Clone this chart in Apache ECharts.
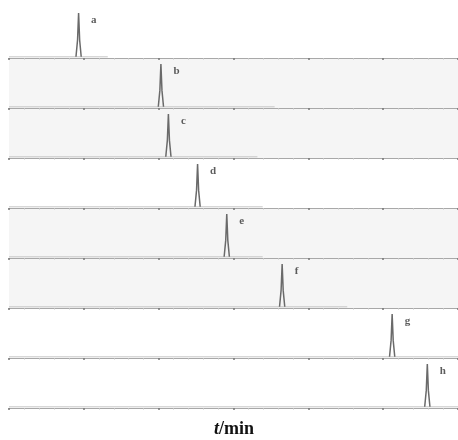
<!DOCTYPE html>
<html>
<head>
<meta charset="utf-8">
<script src="https://cdn.jsdelivr.net/npm/echarts@6/dist/echarts.min.js"></script>
<style>
  html, body { margin: 0; padding: 0; background: #fff; }
  #chart { width: 458px; height: 440px; }
</style>
</head>
<body>
<div id="chart"></div>
<script>
// 色谱图数据
const peakNames = ['a', 'b', 'c', 'd', 'e', 'f', 'g', 'h'];
const retentionTimes = [0.93, 2.03, 2.13, 2.52, 2.91, 3.65, 5.12, 5.59]; // min
const peakHeights = [45, 44, 44, 44, 44, 44, 44, 44];
const traceEnds = [1.32, 3.55, 3.32, 3.39, 3.39, 4.52, 6, 6]; // 记录结束时间
const shadedPanels = [false, true, true, false, true, true, false, false];
const xTicks = [0, 1, 2, 3, 4, 5, 6];

const chart = echarts.init(document.getElementById('chart'));

const grids = [];
const xAxes = [];
const yAxes = [];
const series = [];

for (let i = 0; i < peakNames.length; i++) {
  const rt = retentionTimes[i];
  const h = peakHeights[i];
  grids.push({
    left: 9,
    width: 450,
    top: 8 + 50 * i,
    height: 50,
    show: shadedPanels[i],
    backgroundColor: '#f5f5f5',
    borderWidth: 0
  });
  xAxes.push({
    gridIndex: i,
    type: 'value',
    min: xTicks[0],
    max: xTicks[xTicks.length - 1],
    interval: 1,
    axisLine: { lineStyle: { color: '#a8a8a8', width: 1.2 } },
    axisTick: { show: true, length: 2, inside: false, lineStyle: { color: '#777', width: 1.5 } },
    minorTick: { show: true, splitNumber: 5, length: 1.5, lineStyle: { color: '#c4c4c4' } },
    axisLabel: { show: false },
    splitLine: { show: false }
  });
  yAxes.push({
    gridIndex: i,
    type: 'value',
    min: 0,
    max: 50,
    show: false,
    splitLine: { show: false }
  });
  // 基线记录
  series.push({
    type: 'line',
    xAxisIndex: i,
    yAxisIndex: i,
    symbol: 'none',
    silent: true,
    lineStyle: { color: '#c6c6c6', width: 1 },
    data: [[0, 1.2], [traceEnds[i], 1.2]]
  });
  // 色谱峰
  series.push({
    type: 'line',
    xAxisIndex: i,
    yAxisIndex: i,
    symbol: 'none',
    silent: true,
    lineStyle: { color: '#6a6a6a', width: 1.5 },
    data: [
      [rt - 0.035, 1.2], [rt - 0.014, h * 0.4], [rt, h],
      [rt + 0.014, h * 0.4], [rt + 0.035, 1.2]
    ]
  });
  // 峰标记
  series.push({
    type: 'scatter',
    xAxisIndex: i,
    yAxisIndex: i,
    symbolSize: 1,
    itemStyle: { color: 'rgba(0,0,0,0)' },
    silent: true,
    label: {
      show: true,
      position: 'right',
      distance: 12,
      offset: [0, 7],
      formatter: peakNames[i],
      fontFamily: 'Liberation Serif',
      fontSize: 11,
      fontWeight: 'bold',
      color: '#333'
    },
    data: [[rt, h]]
  });
}

const option = {
  backgroundColor: '#fff',
  animation: false,
  title: {
    text: '{i|t}{n|/min}',
    left: 209,
    top: 415,
    textStyle: {
      rich: {
        i: { fontFamily: 'Liberation Serif', fontSize: 18, fontStyle: 'italic', fontWeight: 'bold', color: '#111' },
        n: { fontFamily: 'Liberation Serif', fontSize: 18, fontWeight: 'bold', color: '#111' }
      }
    }
  },
  grid: grids,
  xAxis: xAxes,
  yAxis: yAxes,
  series: series
};

chart.setOption(option);
</script>
</body>
</html>
